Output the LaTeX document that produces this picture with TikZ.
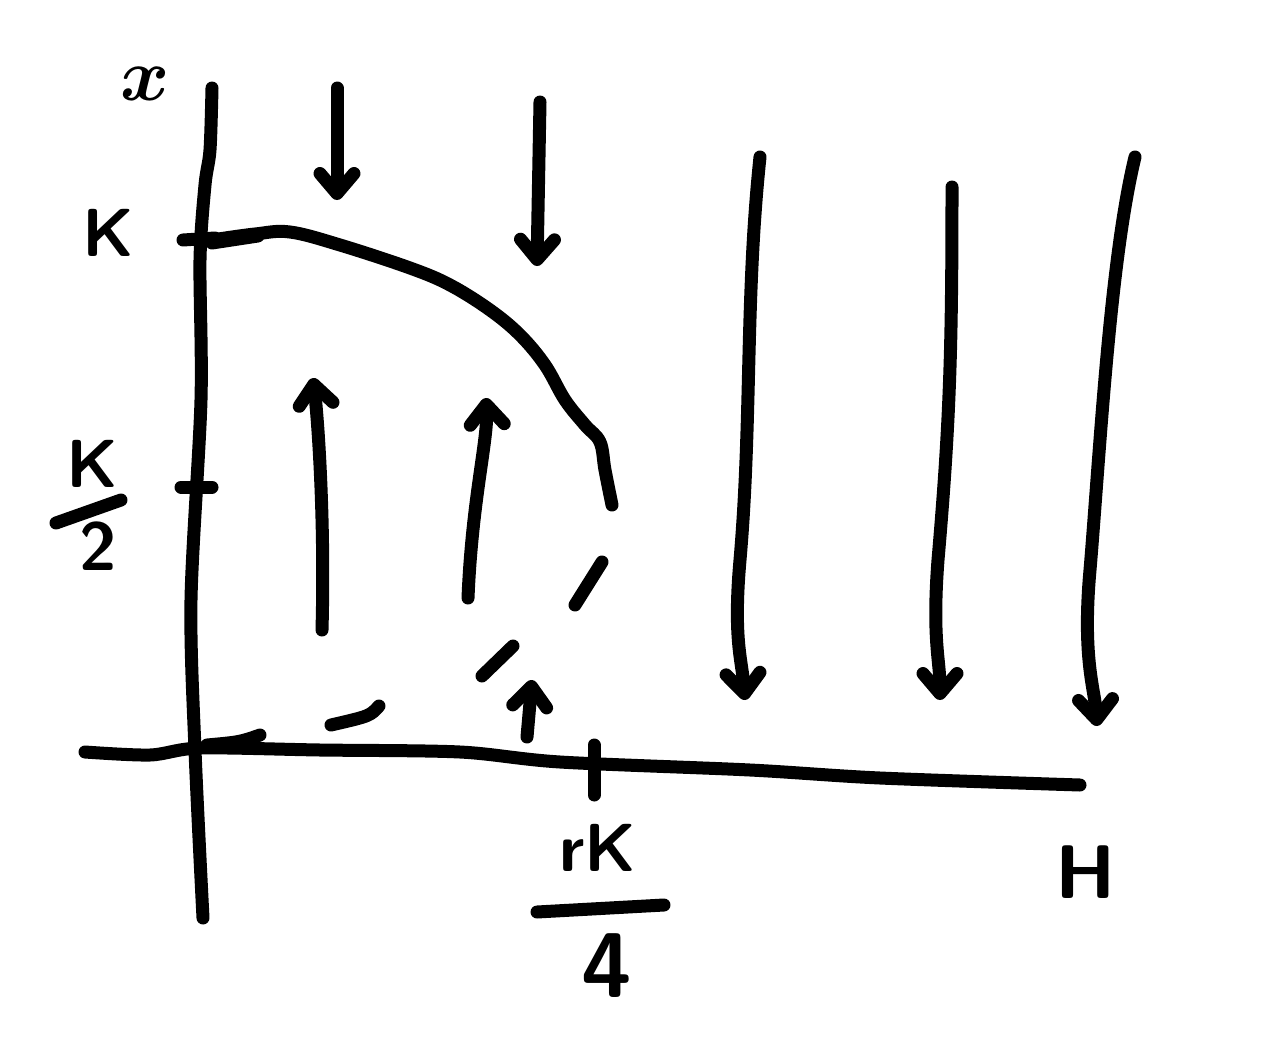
\documentclass[tikz,border=0pt]{standalone}
\usetikzlibrary{arrows.meta}
\begin{document}
\begin{tikzpicture}[x=0.5pt,y=-0.5pt,
  pen/.style={line width=6.5pt,line cap=round,line join=round},
  arr/.style={pen,-{Straight Barb[length=10pt,width=17pt,round]}},
  lab/.style={font=\sffamily\bfseries\fontsize{34}{40}\selectfont,inner sep=0pt}]
\useasboundingbox (0,0) rectangle (1280,1049);
% axes
\draw[pen] plot[smooth,tension=0.5] coordinates {(212,88) (210,150) (205,185) (200,260) (201,400) (191,600) (195,750) (203,918)};
\draw[pen] plot[smooth,tension=0.5] coordinates {(85,752) (150,755) (200,748) (320,750) (460,752) (560,762) (750,770) (880,778) (1080,785)};
% ticks
\draw[pen] (183,240) -- (215,238);
\draw[pen] (181,487) -- (212,487);
\draw[pen] (594,745) -- (594,795);
% labels
\node[inner sep=0pt,font=\boldmath\Huge,scale=1.5] (xl) at (145,84) {$x$};
\node[lab] (kl) at (108,233) {K};
\node[lab] (k2k) at (92,464) {K};
\coordinate (k2a) at (56,523);
\coordinate (k2b) at (121,500);
\draw[pen] (k2a) -- (k2b);
\node[lab] (k2d) at (98,546) {2};
\node[lab] (rk) at (598,848) {rK};
\coordinate (rka) at (537,912);
\coordinate (rkb) at (664,905);
\draw[pen] (rka) -- (rkb);
\node[lab,font=\sffamily\bfseries\fontsize{46}{52}\selectfont] (rk4) at (607,966) {4};
\node[lab,font=\sffamily\bfseries\fontsize{38}{44}\selectfont] (hl) at (1086,872) {H};
% curve
\draw[pen] plot[smooth,tension=0.6] coordinates {(212,240) (255,234) (290,232) (340,245) (410,268) (450,285) (490,310) (520,335) (545,365) (565,400) (585,425) (600,442) (605,470) (612,505)};
\draw[pen] (212,243) -- (258,236);
\draw[pen] (602,562) -- (575,605);
\draw[pen] (513,646) -- (482,676);
\draw[pen] (379,706) .. controls (370,716) .. (331,725);
\draw[pen] (260,735) .. controls (240,742) .. (207,745);
% up arrows
\coordinate (u1a) at (322,630); \coordinate (u1b) at (313,378);
\draw[arr] (u1a) .. controls (325,520) and (318,420) .. (u1b);
\coordinate (u2a) at (468,598); \coordinate (u2b) at (486,398);
\draw[arr] (u2a) .. controls (472,500) and (488,440) .. (u2b);
\coordinate (u3a) at (527,737); \coordinate (u3b) at (532,680);
\draw[arr] (u3a) -- (u3b);
% down arrows
\coordinate (d1a) at (337,88); \coordinate (d1b) at (337,200);
\draw[arr] (d1a) -- (d1b);
\coordinate (d2a) at (540,102); \coordinate (d2b) at (537,266);
\draw[arr] (d2a) -- (d2b);
\coordinate (d3a) at (760,157); \coordinate (d3b) at (745,700);
\draw[arr] (d3a) .. controls (745,300) and (752,420) .. (740,560) .. controls (733,640) and (742,660) .. (d3b);
\coordinate (d4a) at (952,187); \coordinate (d4b) at (940,700);
\draw[arr] (d4a) .. controls (952,350) and (950,420) .. (938,560) .. controls (932,640) and (940,660) .. (d4b);
\coordinate (d5a) at (1135,157); \coordinate (d5b) at (1097,726);
\draw[arr] (d5a) .. controls (1110,260) and (1100,450) .. (1090,570) .. controls (1082,660) and (1095,690) .. (d5b);
\end{tikzpicture}
\end{document}
